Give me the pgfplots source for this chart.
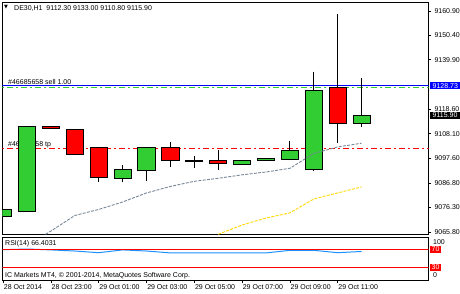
\documentclass[border=0pt]{standalone}
\usepackage{pgfplots}
\pgfplotsset{compat=1.18}
\usepackage{fontspec}
\setmainfont{Liberation Sans}
\newfontfamily\dejavu{DejaVu Sans}
\definecolor{mtgreen}{RGB}{50,205,50}
\definecolor{mtred}{RGB}{255,0,0}
\definecolor{slate}{RGB}{119,136,153}
\definecolor{mtgold}{RGB}{255,215,0}
\definecolor{rsiblue}{RGB}{30,144,255}
\newcommand\sm{\fontsize{7}{8.4}\selectfont}
% \candle{colour}{x left}{x}{x right}{open}{high}{low}{close}
\newcommand{\candle}[8]{%
  \addplot[black, line width=1pt] coordinates {(#3,#6) (#3,#7)};
  \addplot[draw=black, line width=1pt, fill=#1] coordinates {(#2,#5) (#4,#5) (#4,#8) (#2,#8)} -- cycle;
}
\begin{document}
\begin{tikzpicture}[x=1pt,y=1pt]
\useasboundingbox (0,0) rectangle (460,293);
\begin{axis}[
  at={(2.5pt,58.5pt)}, anchor=south west, scale only axis,
  width=426pt, height=232.5pt,
  xmin=-0.03, xmax=17.8, ymin=9064.7, ymax=9164.8,
  axis line style={black, line width=0.9pt},
  xtick=\empty,
  ytick={9065.8,9076.3,9086.8,9097.6,9108.1,9118.6,9139.9,9150.4,9160.9},
  ytick pos=right, yticklabel pos=right,
  tick align=outside, major tick length=2.5pt,
  tick style={black, line width=0.7pt},
  yticklabel style={font=\sm, /pgf/number format/fixed, /pgf/number format/fixed zerofill, /pgf/number format/precision=2, /pgf/number format/1000 sep={}, /pgf/number format/assume math mode=true},
  after end axis/.code={
    \node[fill=blue, text=white, font=\sm, inner xsep=3pt, inner ysep=1pt, anchor=west] at ([xshift=1pt]axis cs:17.8,9128.73) {9128.73};
    \node[fill=black, text=white, font=\sm, inner xsep=3pt, inner ysep=1pt, anchor=west] at ([xshift=1pt]axis cs:17.8,9115.9) {9115.90};
  },
]
% order annotations
\node[font=\sm, anchor=base west, inner sep=0pt] at (axis cs:0.2,9129.3) {\#46685658 sell 1.00};
\node[font=\sm, anchor=base west, inner sep=0pt] at (axis cs:0.2,9102.4) {\#46685658 tp};
% levels
\addplot[blue, line width=0.9pt] coordinates {(-1,9128.73) (20,9128.73)};
\addplot[mtgreen, line width=1pt, dash pattern=on 6pt off 3pt on 2pt off 3pt] coordinates {(-1,9128.1) (20,9128.1)};
\addplot[mtred, line width=1pt, dash pattern=on 6pt off 3pt on 2pt off 3pt] coordinates {(-1,9101.8) (20,9101.8)};
% candles
\candle{mtgreen}{-0.36}{0}{0.36}{9072.3}{9075.3}{9072.3}{9075.3}
\candle{mtgreen}{0.64}{1}{1.36}{9074.8}{9111.4}{9074.8}{9111.4}
\candle{mtred}{1.64}{2}{2.36}{9111.4}{9111.4}{9110.2}{9110.2}
\candle{mtred}{2.64}{3}{3.36}{9110.0}{9110.0}{9099.2}{9099.2}
\candle{mtred}{3.64}{4}{4.36}{9102.2}{9102.2}{9087.4}{9089.3}
\candle{mtgreen}{4.64}{5}{5.36}{9088.6}{9094.6}{9087.4}{9092.5}
\candle{mtgreen}{5.64}{6}{6.36}{9092.2}{9102.2}{9087.9}{9102.2}
\candle{mtred}{6.64}{7}{7.36}{9102.2}{9104.5}{9093.9}{9096.5}
\candle{black}{7.64}{8}{8.36}{9096.6}{9098.5}{9093.3}{9096.2}
\candle{mtred}{8.64}{9}{9.36}{9096.6}{9101.1}{9092.5}{9095.4}
\candle{mtgreen}{9.64}{10}{10.36}{9094.9}{9096.6}{9094.9}{9096.6}
\candle{mtgreen}{10.64}{11}{11.36}{9096.5}{9097.5}{9096.5}{9097.5}
\candle{mtgreen}{11.64}{12}{12.36}{9097.2}{9105.0}{9097.2}{9100.7}
\candle{mtgreen}{12.64}{13}{13.36}{9092.5}{9134.8}{9092.2}{9126.9}
\candle{mtred}{13.64}{14}{14.36}{9127.8}{9159.6}{9104.2}{9112.3}
\candle{mtgreen}{14.64}{15}{15.36}{9112.3}{9132.0}{9110.8}{9115.9}
% moving averages
\addplot[slate, line width=0.9pt, dash pattern=on 3pt off 1.3pt] coordinates {
 (1,9060.0) (2,9066.2) (3,9072.9) (4,9075.5) (5,9078.7) (6,9082.6) (7,9085.4)
 (8,9087.6) (9,9088.9) (10,9090.4) (11,9091.6) (12,9093.2) (13,9099.6) (14,9102.4) (15,9104.0)};
\addplot[mtgold, line width=0.9pt, dash pattern=on 3pt off 1.3pt] coordinates {
 (9,9064.8) (10,9068.8) (11,9071.8) (12,9074.0) (13,9080.0) (14,9082.6) (15,9085.2)};
\end{axis}

\begin{axis}[
  at={(2.5pt,13pt)}, anchor=south west, scale only axis,
  width=426pt, height=43pt,
  xmin=-0.03, xmax=17.8, ymin=0, ymax=100,
  axis line style={black, line width=0.9pt},
  ytick=\empty,
  xtick={0,2,...,14},
  xticklabels={28 Oct 2014, 28 Oct 23:00, 29 Oct 01:00, 29 Oct 03:00, 29 Oct 05:00, 29 Oct 07:00, 29 Oct 09:00, 29 Oct 11:00},
  xtick pos=bottom, tick align=outside, major tick length=3pt,
  tick style={black, line width=0.7pt},
  xticklabel style={font=\sm, anchor=north west, inner sep=0pt, xshift=0.5pt, yshift=-1pt},
]
\addplot[rsiblue, line width=1pt] coordinates {
 (0,70.5) (1,72.1) (2,70.0) (3,67.4) (4,63.5) (5,70.0) (6,67.4) (7,63.0)
 (8,63.0) (9,63.0) (10,63.0) (11,63.0) (12,69.0) (13,69.0) (14,63.5) (15,66.4)};
\addplot[mtred, line width=1pt] coordinates {(-1,70) (20,70)};
\addplot[mtred, line width=1pt] coordinates {(-1,30) (20,30)};
\end{axis}

% header and panel texts
\node[anchor=west, inner sep=0pt] at (4,285.5) {\dejavu\fontsize{5}{5}\selectfont ▼};
\node[font=\sm, anchor=base west, inner sep=0pt] at (14,282.5) {DE30,H1\ \ 9112.30 9133.00 9110.80 9115.90};
\node[font=\sm, anchor=base west, inner sep=0pt] at (5,47.5) {RSI(14) 66.4031};
\node[font=\sm, anchor=base west, inner sep=0pt] at (5,15.5) {IC Markets MT4, © 2001-2014, MetaQuotes Software Corp.};
\node[font=\sm, anchor=base west, inner sep=0pt] at (433,48.8) {100};
\node[font=\sm, anchor=base west, inner sep=0pt] at (433,15.5) {0};
\node[fill=mtred, text=white, font=\sm, inner xsep=1.5pt, inner ysep=1pt, anchor=west] at (430,43.5) {70};
\node[fill=mtred, text=white, font=\sm, inner xsep=1.5pt, inner ysep=1pt, anchor=west] at (430,25.7) {30};
\end{tikzpicture}
\end{document}
